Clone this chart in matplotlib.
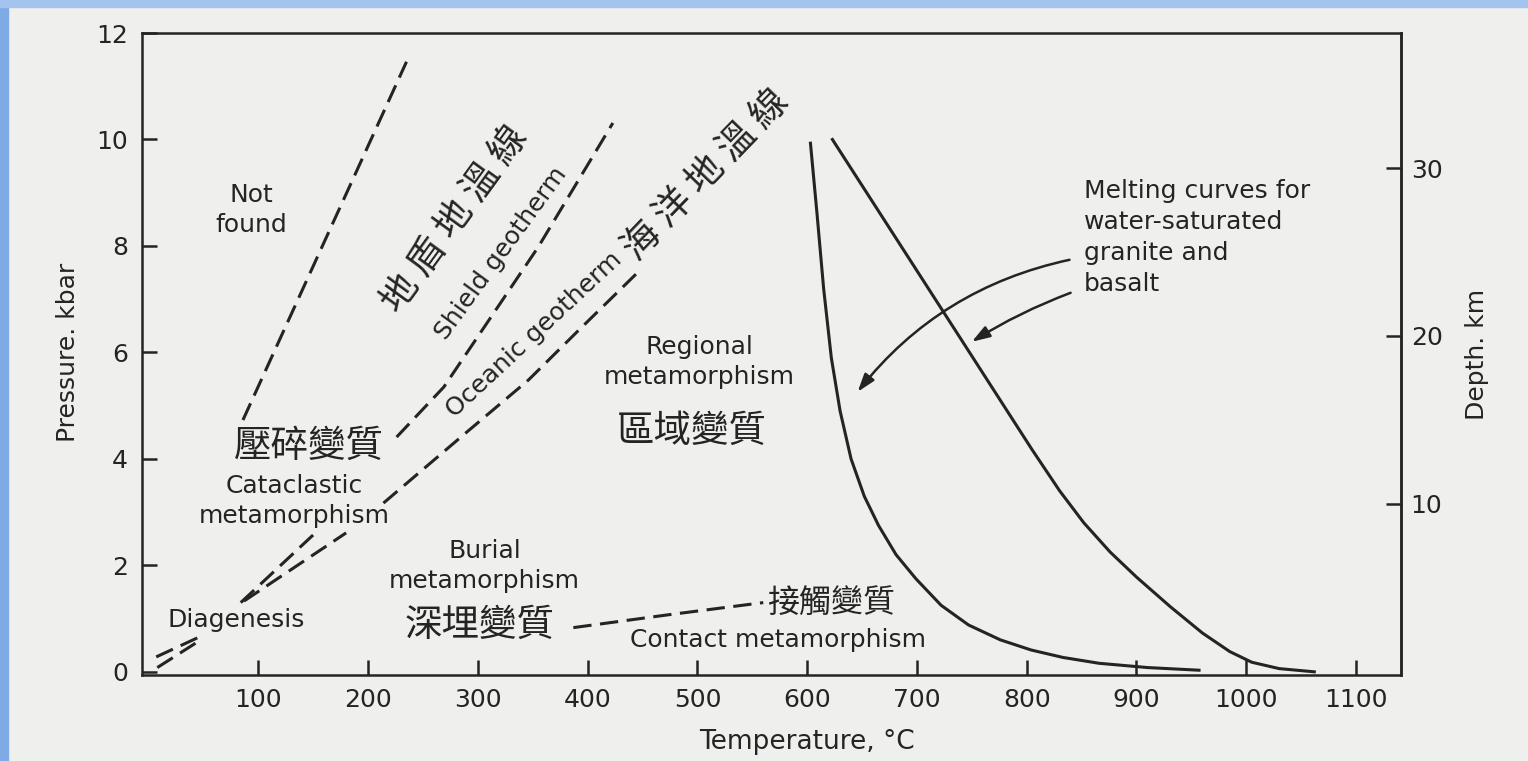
import numpy as np
import matplotlib
matplotlib.use("Agg")
import matplotlib.pyplot as plt
from matplotlib.patches import Rectangle

# ── Data ────────────────────────────────────────────────
# melting curves for water-saturated granite and basalt (solid)
granite_T = [603, 609, 615, 622, 630, 640, 652, 665, 681, 699, 722, 747, 776, 804, 833, 866, 910, 957]
granite_P = [9.93, 8.6, 7.2, 5.9, 4.9, 4.0, 3.3, 2.75, 2.2, 1.75, 1.25, 0.88, 0.60, 0.41, 0.27, 0.16, 0.08, 0.03]

basalt_T = [623, 727, 805, 830, 852, 876, 900, 931, 960, 985, 1005, 1030, 1062]
basalt_P = [10.0, 6.67, 4.17, 3.4, 2.80, 2.25, 1.78, 1.22, 0.73, 0.38, 0.18, 0.06, 0.0]

# geotherms (dashed), nan = gap where a label sits
shield_T = [7, 50, np.nan, 84, 152, np.nan, 226, 269, 355, 423]
shield_P = [0.28, 0.69, np.nan, 1.30, 2.61, np.nan, 4.41, 5.35, 7.98, 10.31]

oceanic_T = [8, 43, np.nan, 87, 180, np.nan, 214, 288, 346, 392, 448]
oceanic_P = [0.08, 0.54, np.nan, 1.33, 2.61, np.nan, 3.17, 4.47, 5.48, 6.42, 7.55]

# "not found" boundary and contact metamorphism boundary (dashed)
notfound_T = [86, 235]
notfound_P = [4.73, 11.46]
contact_T = [387, 473, 560]
contact_P = [0.83, 1.07, 1.30]

x_ticks = [100, 200, 300, 400, 500, 600, 700, 800, 900, 1000, 1100]
y_ticks = [0, 2, 4, 6, 8, 10, 12]
depth_ticks = [10, 20, 30]
KM_PER_KBAR = 3.17

# ── Style ───────────────────────────────────────────────
INK = '#242424'
BG = '#efefed'
CJK = ['Noto Sans CJK TC', 'DejaVu Sans']

fig = plt.figure(figsize=(15.28, 7.61), dpi=100, facecolor=BG)
ax = fig.add_axes([0.0929, 0.1130, 0.8240, 0.8436], facecolor=BG)

# blue slide frame on the left and top edges
fig.patches.append(Rectangle((0, 0), 8 / 1528, 1, transform=fig.transFigure,
                             color='#7eaae6', zorder=0))
fig.patches.append(Rectangle((0, 1 - 7 / 761), 1, 7 / 761, transform=fig.transFigure,
                             color='#a3c4ee', zorder=0))

# ── Curves ──────────────────────────────────────────────
ax.plot(granite_T, granite_P, color=INK, lw=2.2)
ax.plot(basalt_T, basalt_P, color=INK, lw=2.2)

for T, P in [(shield_T, shield_P), (oceanic_T, oceanic_P),
             (notfound_T, notfound_P), (contact_T, contact_P)]:
    ax.plot(T, P, color=INK, lw=2.2, dashes=(6, 2.8))

# arrows from the melting-curve note
arrow_kw = dict(arrowstyle='-|>,head_length=0.9,head_width=0.3', color=INK,
                lw=1.8, mutation_scale=12, shrinkA=0, shrinkB=0)
ax.annotate('', xy=(646, 5.26), xytext=(839, 7.74),
            arrowprops=dict(connectionstyle='arc3,rad=0.18', **arrow_kw))
ax.annotate('', xy=(750, 6.2), xytext=(840, 7.12),
            arrowprops=dict(connectionstyle='arc3,rad=0.05', **arrow_kw))

# ── Labels ──────────────────────────────────────────────
latin = dict(fontsize=18, color=INK, ha='center', va='center', linespacing=1.3)
cjk = dict(fontsize=27, color=INK, ha='center', va='center', family=CJK)

ax.text(94, 8.68, 'Not\nfound', **latin)
ax.text(133, 3.21, 'Cataclastic\nmetamorphism', **latin)
ax.text(80, 0.98, 'Diagenesis', **latin)
ax.text(306, 1.99, 'Burial\nmetamorphism', **latin)
ax.text(502, 5.82, 'Regional\nmetamorphism', **latin)
ax.text(573, 0.60, 'Contact metamorphism', **latin)
ax.text(852, 8.16, 'Melting curves for\nwater-saturated\ngranite and\nbasalt',
        fontsize=18, color=INK, ha='left', va='center', linespacing=1.38)

ax.text(321, 7.87, 'Shield geotherm', rotation=54, rotation_mode='anchor', **latin)
ax.text(351, 6.33, 'Oceanic geotherm', rotation=43, rotation_mode='anchor', **latin)

ax.text(146, 4.24, '壓碎變質', **cjk)
ax.text(302, 0.88, '深埋變質', **cjk)
ax.text(495, 4.51, '區域變質', **cjk)
ax.text(622, 1.30, '接觸變質', fontsize=23, color=INK, ha='center', va='center', family=CJK)
ax.text(279, 8.49, '地 盾 地 溫 線', rotation=54, rotation_mode='anchor', **cjk)
ax.text(508, 9.33, '海 洋 地 溫 線', rotation=46, rotation_mode='anchor', **cjk)

# ── Axes ────────────────────────────────────────────────
ax.set_xlim(-6, 1141)
ax.set_ylim(-0.06, 12.0)
ax.set_xticks(x_ticks)
ax.set_yticks(y_ticks)
ax.tick_params(direction='in', length=11, width=1.8, labelsize=18,
               colors=INK, pad=9)
ax.tick_params(axis='y', pad=10)
for sp in ax.spines.values():
    sp.set_linewidth(1.8)
    sp.set_color(INK)

ax.set_xlabel('Temperature, °C', fontsize=19, color=INK)
ax.xaxis.set_label_coords(0.528, -0.104)
ax.xaxis.label.set_va('center')
ax.set_ylabel('Pressure. kbar', fontsize=18, color=INK)
ax.yaxis.set_label_coords(-0.0588, 0.503)
ax.yaxis.label.set_va('center')

sec = ax.secondary_yaxis('right', functions=(lambda p: p * KM_PER_KBAR,
                                             lambda d: d / KM_PER_KBAR))
sec.set_yticks(depth_ticks)
sec.tick_params(direction='in', length=11, width=1.8, labelsize=18,
                colors=INK, pad=7)
sec.spines['right'].set_linewidth(1.8)
sec.spines['right'].set_color(INK)
sec.set_ylabel('Depth. km', fontsize=18, color=INK, labelpad=16)

fig.savefig('out.png', dpi=100, facecolor=BG)
